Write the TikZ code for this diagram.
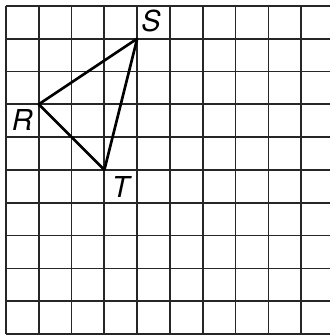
\documentclass[tikz,border=0pt]{standalone}
\usepackage{fontspec}
\setmainfont{TeX Gyre Heros}
\usepackage{tikz}
\usetikzlibrary{calc}

\tikzset{
    gridline/.style={line width=1.5pt, black!85},
    side/.style={line width=2.3pt, black, line join=round},
    vlabel/.style={inner sep=0pt, font=\fontsize{25}{29}\selectfont\itshape}
}

\begin{document}
\begin{tikzpicture}
            \useasboundingbox (-0.18,-0.03) rectangle (9.88,10.18);
            \draw[gridline] (0,0) grid (9.88,10);
            \coordinate (R) at (1,7);
            \coordinate (S) at (4,9);
            \coordinate (T) at (3,5);
            \draw[side] (R) -- (S) -- (T) -- cycle;
            \node[vlabel] (labS) at (4.42,9.53) {S};
            \node[vlabel] (labR) at (0.50,6.52) {R};
            \node[vlabel] (labT) at (3.50,4.48) {T};
        \end{tikzpicture}
\end{document}
